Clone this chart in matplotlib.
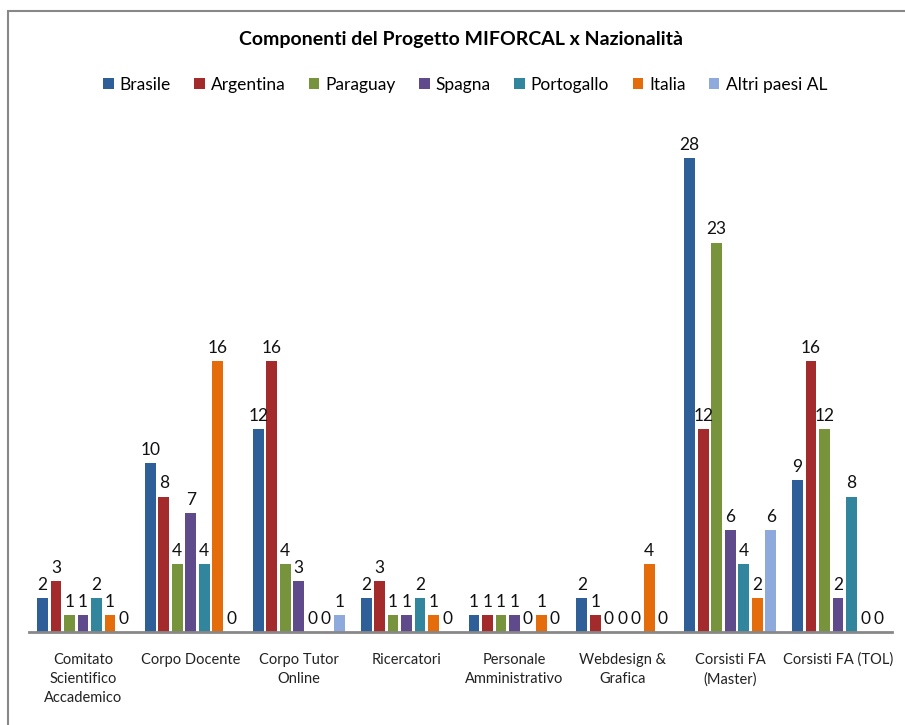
import matplotlib.pyplot as plt
import numpy as np
from matplotlib.patches import Rectangle

plt.rcParams['font.family'] = ['Lato', 'DejaVu Sans']

categories = ["Comitato\nScientifico\nAccademico", "Corpo Docente", "Corpo Tutor\nOnline",
              "Ricercatori", "Personale\nAmministrativo", "Webdesign &\nGrafica",
              "Corsisti FA\n(Master)", "Corsisti FA (TOL)"]
series = ["Brasile", "Argentina", "Paraguay", "Spagna", "Portogallo", "Italia", "Altri paesi AL"]
brasile = [2, 10, 12, 2, 1, 2, 28, 9]
argentina = [3, 8, 16, 3, 1, 1, 12, 16]
paraguay = [1, 4, 4, 1, 1, 0, 23, 12]
spagna = [1, 7, 3, 1, 1, 0, 6, 2]
portogallo = [2, 4, 0, 2, 0, 0, 4, 8]
italia = [1, 16, 0, 1, 1, 4, 2, 0]
altri = [0, 0, 1, 0, 0, 0, 6, 0]
values = [brasile, argentina, paraguay, spagna, portogallo, italia, altri]
colors = ["#2F5F98", "#A32B2B", "#77933C", "#5F4A8B", "#31859C", "#E46C0A", "#8EA9DB"]

fig = plt.figure(figsize=(9.05, 7.25), dpi=100)
ax = fig.add_axes([29/905, 1 - 632/725, (892-29)/905, (632-124)/725])

x = np.arange(len(categories))
pitch = 0.125
width = 0.1
for i, (name, vals, c) in enumerate(zip(series, values, colors)):
    pos = x + (i - 3) * pitch
    ax.bar(pos, vals, width, color=c, label=name)
    for p, v in zip(pos, vals):
        ax.text(p, v + 0.3, str(v), ha='center', va='bottom', fontsize=12.5, color='#111111')

ax.set_xlim(-0.5, 7.5)
ax.set_ylim(0, 30)
ax.set_xticks(x)
ax.set_xticklabels(categories, fontsize=10.5, color='#222222', linespacing=1.45)
ax.tick_params(axis='x', length=0, pad=15)
ax.set_yticks([])
for s in ['top', 'right', 'left']:
    ax.spines[s].set_visible(False)
ax.spines['bottom'].set_color('#888888')
ax.spines['bottom'].set_linewidth(2)

fig.text(461/905, 1 - 40/725, "Componenti del Progetto MIFORCAL x Nazionalità", ha='center', va='center',
         fontsize=14, fontweight='bold')
fig.legend(loc='center', bbox_to_anchor=(465/905, 1 - 85/725), ncol=7, frameon=False, fontsize=12.5,
           handlelength=0.6, handleheight=0.6, handletextpad=0.35, columnspacing=1.35)

fig.patches.append(Rectangle((8/905, -0.1), 1.2, 1 - 11/725 + 0.1, transform=fig.transFigure,
                             fill=False, edgecolor='#888888', linewidth=1.5))

fig.savefig("out.png", dpi=100)
